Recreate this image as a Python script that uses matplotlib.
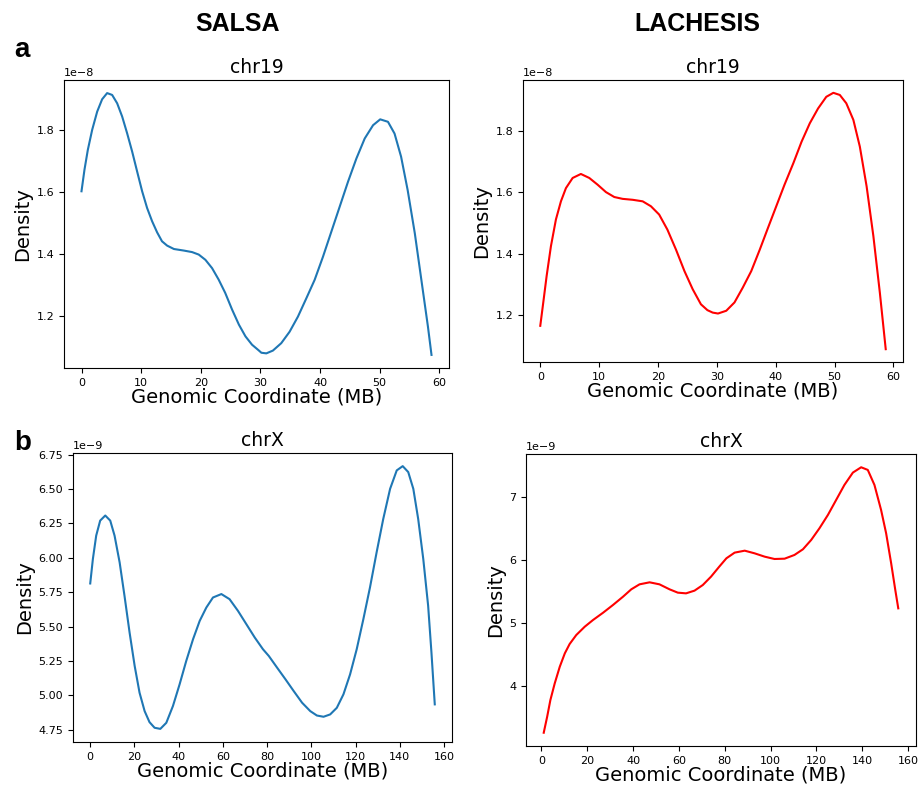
import matplotlib
matplotlib.use("Agg")
import matplotlib.pyplot as plt
import numpy as np

# SALSA chr19 (x in MB, density in units of 1e-8)
salsa19_x = [0, 0.5, 1.06, 1.79, 2.63, 3.46, 4.3, 5.14, 5.98, 6.82, 7.65, 8.49, 9.33, 10.17, 11.0,
             11.84, 12.68, 13.5, 14.36, 15.5, 17.15, 18.55, 19.66, 20.78, 21.9, 23.0, 24.1, 25.25,
             26.4, 27.5, 28.6, 29.7, 30.17, 31.0, 32.1, 33.5, 34.9, 36.3, 37.7, 39.1, 40.5, 41.9,
             43.3, 44.7, 46.1, 47.5, 48.9, 50.1, 51.4, 52.5, 53.6, 54.7, 55.9, 57.0, 58.1, 58.7]
salsa19_y = [1.603, 1.673, 1.737, 1.802, 1.861, 1.901, 1.921, 1.915, 1.888, 1.845, 1.791, 1.732,
             1.667, 1.603, 1.549, 1.506, 1.47, 1.441, 1.427, 1.416, 1.411, 1.406, 1.398, 1.381,
             1.354, 1.317, 1.274, 1.22, 1.171, 1.133, 1.106, 1.088, 1.080, 1.078, 1.087, 1.111,
             1.148, 1.197, 1.256, 1.316, 1.391, 1.472, 1.553, 1.634, 1.709, 1.774, 1.817, 1.836,
             1.828, 1.79, 1.715, 1.607, 1.467, 1.316, 1.165, 1.073]

# LACHESIS chr19
lach19_x = [0, 0.51, 1.08, 1.81, 2.66, 3.51, 4.36, 5.5, 6.9, 8.33, 9.75, 11.16, 12.58, 14.0, 15.7,
            17.4, 18.8, 20.2, 21.6, 23.06, 24.5, 25.9, 27.3, 28.4, 29.3, 30.2, 31.6, 33.0, 34.4,
            35.85, 37.3, 38.7, 40.1, 41.5, 43.0, 44.4, 45.8, 47.2, 48.6, 49.8, 50.9, 52.0, 53.2,
            54.3, 55.45, 56.6, 57.7, 58.7]
lach19_y = [1.165, 1.241, 1.327, 1.424, 1.511, 1.570, 1.613, 1.646, 1.659, 1.646, 1.624, 1.600,
            1.584, 1.578, 1.575, 1.570, 1.554, 1.527, 1.478, 1.413, 1.343, 1.284, 1.235, 1.216,
            1.208, 1.205, 1.214, 1.241, 1.289, 1.343, 1.413, 1.484, 1.554, 1.624, 1.694, 1.764,
            1.824, 1.872, 1.91, 1.923, 1.916, 1.889, 1.835, 1.748, 1.619, 1.457, 1.273, 1.089]

# SALSA chrX (density in units of 1e-9)
salsaX_x = [0, 1.2, 2.7, 4.5, 6.8, 9.05, 11.0, 13.3, 15.5, 17.8, 20.1, 22.3, 24.6, 26.8, 29.1, 31.7,
            34.4, 37.4, 40.4, 43.4, 46.5, 49.5, 52.5, 55.5, 59.3, 63.0, 66.8, 70.6, 74.4, 78.1,
            80.75, 84.5, 88.3, 92.0, 95.8, 99.5, 102.5, 105.5, 108.5, 111.5, 114.5, 117.5, 120.5,
            123.5, 126.5, 129.5, 132.5, 135.6, 138.6, 141.3, 143.8, 146.1, 148.3, 150.6, 152.8,
            154.3, 155.8]
salsaX_y = [5.814, 5.992, 6.162, 6.271, 6.308, 6.271, 6.162, 5.967, 5.724, 5.457, 5.214, 5.02,
            4.886, 4.806, 4.765, 4.757, 4.801, 4.923, 5.08, 5.25, 5.409, 5.542, 5.639, 5.712,
            5.737, 5.70, 5.615, 5.518, 5.421, 5.336, 5.287, 5.202, 5.117, 5.032, 4.947, 4.886,
            4.854, 4.845, 4.862, 4.91, 5.008, 5.153, 5.336, 5.554, 5.785, 6.04, 6.283, 6.502,
            6.636, 6.667, 6.624, 6.502, 6.283, 5.992, 5.652, 5.311, 4.935]

# LACHESIS chrX
lachX_x = [1.0, 2.5, 3.9, 5.8, 8.0, 10.2, 12.3, 15.2, 18.9, 22.5, 26.9, 31.2, 35.6, 39.2, 42.8, 47.2,
           51.5, 55.9, 59.5, 63.1, 66.8, 70.4, 74.0, 77.6, 80.7, 84.3, 88.7, 93.0, 97.4, 101.7,
           106.1, 110.4, 114.1, 117.7, 121.3, 125.0, 128.6, 132.2, 135.9, 139.5, 142.4, 145.3,
           148.2, 150.4, 152.6, 154.4, 155.7]
lachX_y = [3.265, 3.519, 3.783, 4.048, 4.312, 4.524, 4.672, 4.815, 4.947, 5.053, 5.169, 5.291,
           5.423, 5.540, 5.619, 5.651, 5.619, 5.540, 5.487, 5.476, 5.519, 5.608, 5.741, 5.90,
           6.032, 6.122, 6.153, 6.111, 6.058, 6.021, 6.026, 6.085, 6.175, 6.323, 6.508, 6.720,
           6.958, 7.196, 7.392, 7.476, 7.434, 7.196, 6.799, 6.429, 5.952, 5.529, 5.238]

W, H = 919, 786
fig = plt.figure(figsize=(W / 100, H / 100), dpi=100)


def axes_px(x0, y0, x1, y1):
    return fig.add_axes([x0 / W, 1 - y1 / H, (x1 - x0) / W, (y1 - y0) / H])


panels = [
    ((64, 80, 449, 368), salsa19_x, salsa19_y, 1e-8, "#1f77b4", "chr19"),
    ((523, 80, 903, 362), lach19_x, lach19_y, 1e-8, "red", "chr19"),
    ((73, 453, 452, 742), salsaX_x, salsaX_y, 1e-9, "#1f77b4", "chrX"),
    ((526, 454, 916, 746), lachX_x, lachX_y, 1e-9, "red", "chrX"),
]

for box, xs, ys, scale, color, title in panels:
    ax = axes_px(*box)
    ax.plot(xs, np.array(ys) * scale, color=color, linewidth=1.5)
    ax.set_title(title, fontsize=13.5, pad=5)
    ax.set_xlabel("Genomic Coordinate (MB)", fontsize=14, labelpad=0)
    ax.set_ylabel("Density", fontsize=14, labelpad=3)
    ax.tick_params(labelsize=8)
    ax.yaxis.get_offset_text().set_fontsize(8)

fig.text(238 / W, 1 - 24 / H, "SALSA", fontsize=18, fontweight="bold",
         family="Liberation Sans", ha="center", va="center")
fig.text(697 / W, 1 - 24 / H, "LACHESIS", fontsize=18, fontweight="bold",
         family="Liberation Sans", ha="center", va="center")
fig.text(22 / W, 1 - 50 / H, "a", fontsize=20, fontweight="bold",
         family="Liberation Sans", ha="center", va="center")
fig.text(23 / W, 1 - 443 / H, "b", fontsize=20, fontweight="bold",
         family="Liberation Sans", ha="center", va="center")

fig.savefig("out.png", dpi=100)
